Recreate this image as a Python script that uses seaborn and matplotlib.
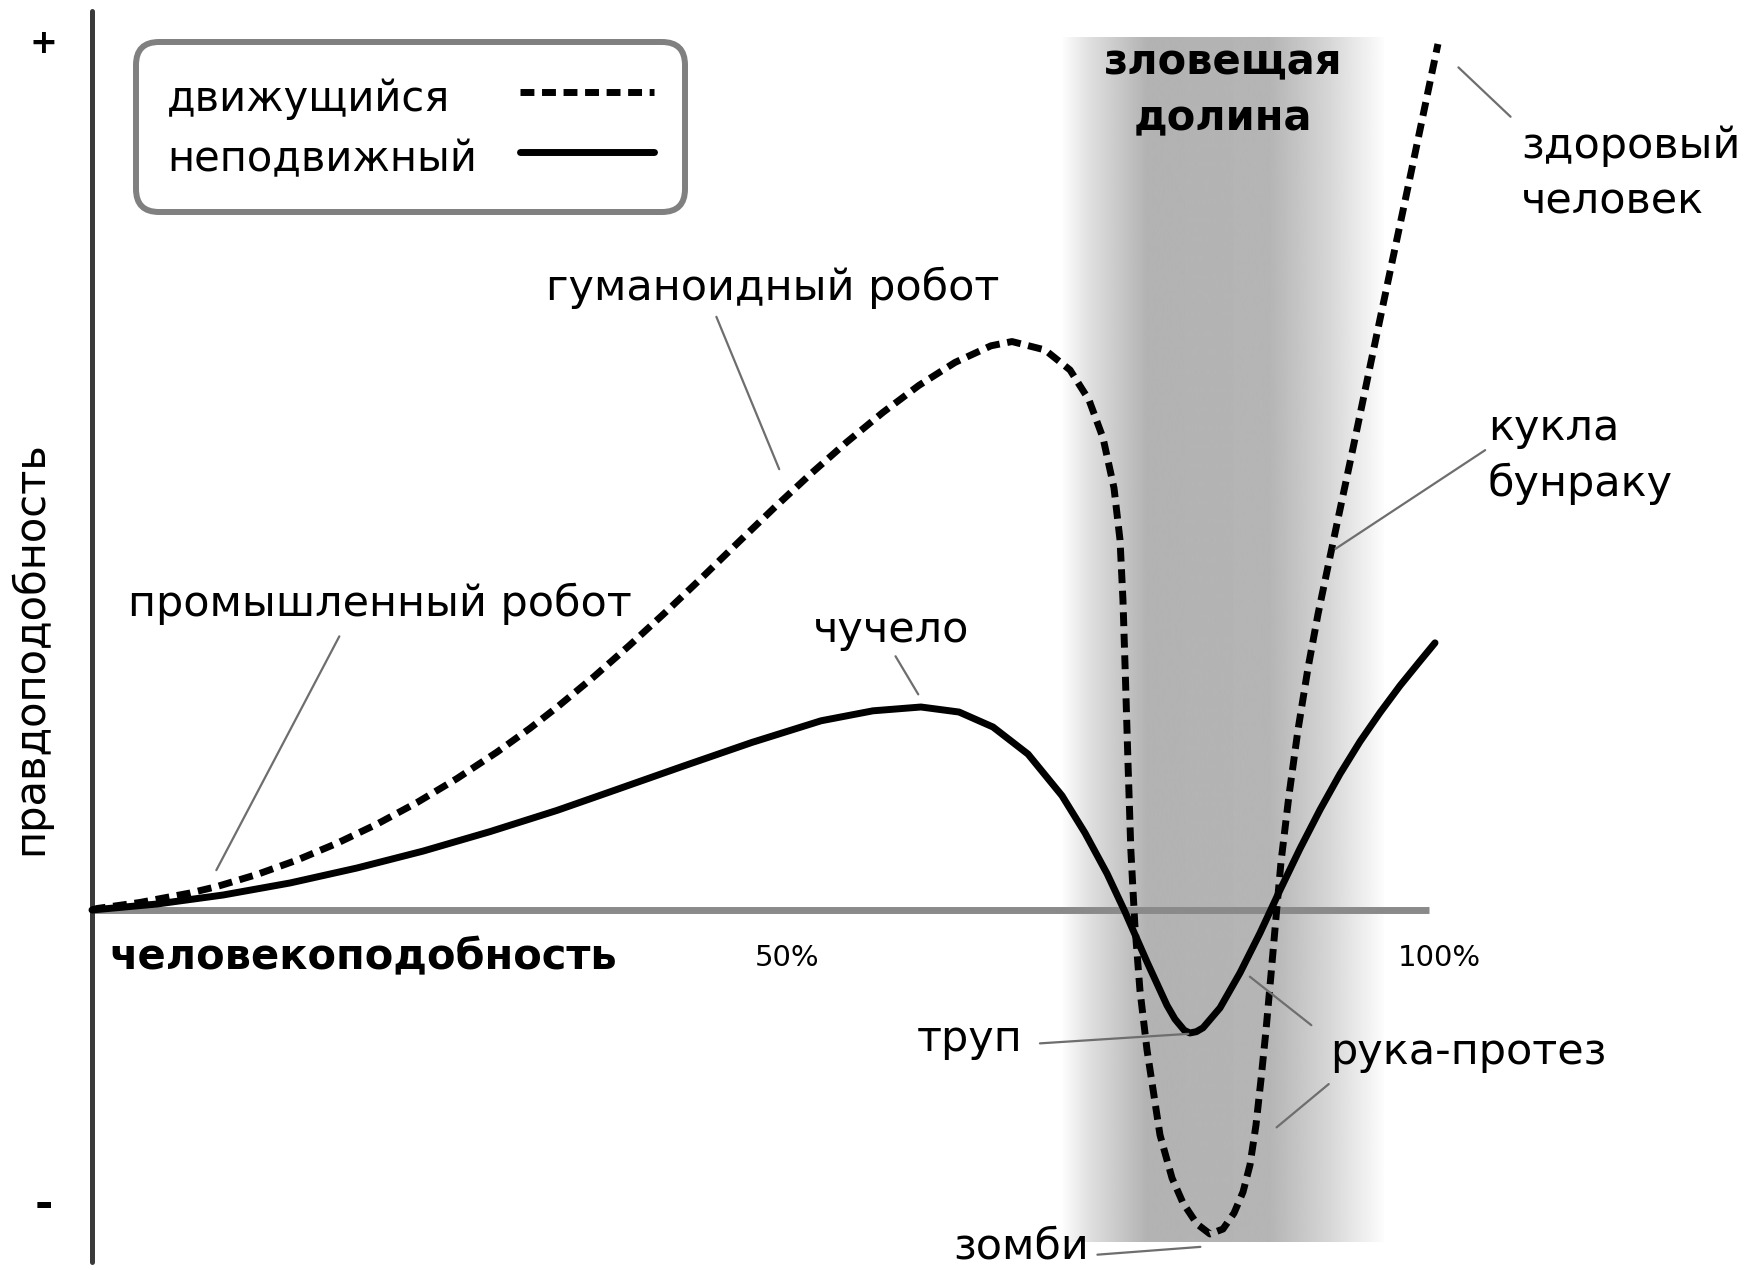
"""Uncanny valley chart: familiarity vs human likeness, moving and still curves."""
import matplotlib
matplotlib.use("Agg")
import matplotlib.pyplot as plt
import numpy as np
import pandas as pd
import seaborn as sns

# human likeness (%) and familiarity
moving_x = [0.0, 0.37, 3.59, 7.33, 9.35, 12.34, 15.33, 18.32, 21.32, 24.31, 27.30,
            30.29, 32.76, 34.85, 37.55, 40.24, 42.93, 45.62, 48.39, 51.08, 53.78,
            56.47, 59.16, 61.85, 64.55, 67.24, 68.81, 71.28, 73.15, 74.57, 75.62,
            76.44, 76.89, 77.11, 77.30, 77.48, 77.70, 78.00, 78.38, 78.91, 79.88,
            80.78, 81.60, 82.65, 83.62, 84.59, 85.42, 86.09, 86.61, 87.06, 87.43,
            87.81, 88.18, 88.56, 88.93, 89.53, 90.20, 90.95, 91.70, 92.97, 94.32,
            95.66, 97.08, 98.43, 99.70, 100.67]
moving_y = [0.0, 0.17, 0.87, 1.96, 2.71, 4.10, 5.76, 7.70, 9.92, 12.41, 15.18,
            18.23, 20.98, 23.50, 26.95, 30.61, 34.43, 38.38, 42.53, 46.52, 50.39,
            54.05, 57.46, 60.58, 63.23, 65.15, 65.64, 64.67, 62.36, 58.89, 54.50,
            48.73, 42.73, 35.80, 26.56, 17.32, 6.93, -1.73, -9.24, -16.17, -25.98,
            -30.95, -33.83, -36.26, -37.41, -36.84, -34.99, -32.56, -29.45, -24.83, -19.63,
            -13.86, -7.51, -0.81, 5.54, 13.28, 20.79, 27.94, 34.18, 43.53, 53.35,
            63.28, 73.67, 83.49, 92.84, 100.0]
still_x = [0.0, 4.86, 9.80, 14.81, 19.82, 24.76, 29.77, 34.78, 39.04, 44.20, 49.36,
           54.53, 58.41, 62.00, 64.85, 67.39, 70.01, 72.55, 74.27, 75.92, 77.26,
           78.91, 80.40, 81.00, 81.70, 82.12, 82.60, 83.10, 84.37, 85.86, 87.36,
           88.86, 90.35, 91.85, 93.34, 94.84, 96.34, 97.83, 99.33, 100.45]
still_y = [0.0, 0.69, 1.73, 3.12, 4.85, 6.80, 9.05, 11.50, 13.80, 16.60, 19.35,
           21.85, 23.00, 23.44, 22.86, 21.13, 18.00, 13.20, 8.90, 4.20, -0.20,
           -6.00, -11.00, -12.60, -13.90, -14.20, -14.05, -13.60, -11.30, -7.27, -2.66,
           2.31, 7.08, 11.58, 15.70, 19.45, 22.80, 25.90, 28.75, 30.85]

series_names = ["движущийся", "неподвижный"]
x_title = "человекоподобность"
y_title = "правдоподобность"
tick_pos = [52.0, 100.8]
tick_labels = ["50%", "100%"]
valley_label = "зловещая\nдолина"

# label text, anchor, alignment, leader segments
notes = [
    ("гуманоидный робот", (50.9, 71.8), "center", [((46.7, 68.5), (51.4, 50.9))]),
    ("промышленный робот", (21.5, 35.4), "center", [((18.5, 31.6), (9.3, 4.6))]),
    ("чучело", (59.8, 32.3), "center", [((60.1, 29.3), (61.8, 24.9))]),
    ("здоровый\nчеловек", (106.9, 85.0), "left", [((102.2, 97.3), (106.1, 91.6))]),
    ("кукла\nбунраку", (104.4, 52.4), "left", [((104.2, 53.1), (93.0, 41.7))]),
    ("труп", (69.6, -14.9), "right", [((70.9, -15.4), (82.0, -14.3))]),
    ("рука-протез", (92.6, -16.4), "left", [((91.2, -13.3), (86.6, -7.7)),
                                           ((92.5, -20.1), (88.6, -25.1))]),
    ("зомби", (69.5, -38.9), "center", [((75.2, -39.8), (82.9, -38.9))]),
]

sns.set_theme(style="white")
plt.rcParams["font.family"] = ["DejaVu Sans"]
plt.rcParams["text.color"] = "black"

fig = plt.figure(figsize=(17.44, 12.7), dpi=100)
ax = fig.add_axes([0, 0, 1, 1])

# gray band behind the valley
band_x = np.linspace(72.6, 96.6, 600)
band = np.interp(band_x, [72.6, 74.5, 78.9, 88.1, 92.5, 96.6],
                 [0.99, 0.88, 0.70, 0.71, 0.84, 0.99])
ax.imshow(band[np.newaxis, :], extent=(72.6, 96.6, -38.3, 100.8), aspect="auto",
          cmap="gray", vmin=0, vmax=1, interpolation="bilinear", zorder=0)

# axes
ax.hlines(0, 0, 100, color="#8a8a8a", lw=5, zorder=1)
ax.axvline(0, ymin=0.006, ymax=0.991, color="#3a3a3a", lw=3.6, zorder=1)

df = pd.concat([
    pd.DataFrame({"x": moving_x, "y": moving_y, "kind": series_names[0]}),
    pd.DataFrame({"x": still_x, "y": still_y, "kind": series_names[1]}),
])
sns.lineplot(data=df, x="x", y="y", style="kind", style_order=series_names,
             dashes={series_names[0]: (2, 1.1), series_names[1]: ""},
             color="black", linewidth=5, estimator=None, sort=False, ax=ax,
             zorder=3)

handles, labels = ax.get_legend_handles_labels()
leg = ax.legend(handles, labels, loc="upper left",
                bbox_to_anchor=(136 / 1744, 1 - 42 / 1270), bbox_transform=fig.transFigure,
                markerfirst=False, fontsize=30, handlelength=3.2, handletextpad=1.05,
                handleheight=1.4, borderpad=0.74, labelspacing=0.29, borderaxespad=0,
                frameon=True, fancybox=True, edgecolor="#808080", framealpha=1)
leg.get_frame().set_linewidth(4.3)
leg.get_frame().set_boxstyle("round", pad=0, rounding_size=0.55)
for line in leg.get_lines():
    line.set_linewidth(5)

# left-align legend labels while keeping the line samples in one column
fig.canvas.draw()
renderer = fig.canvas.get_renderer()
column = leg._legend_handle_box.get_children()[0]
column.align = "left"
rows = column.get_children()
text_w = [row.get_children()[0].get_bbox(renderer).width for row in rows]
for row, w in zip(rows, text_w):
    row.sep += (max(text_w) - w) * 72 / fig.dpi

for text, (tx, ty), ha, leaders in notes:
    ax.text(tx, ty, text, ha=ha, va="center", fontsize=31, linespacing=1.42, zorder=4)
    for start, end in leaders:
        ax.annotate("", xy=end, xytext=start,
                    arrowprops=dict(arrowstyle="-", color="#6e6e6e", lw=1.6,
                                    shrinkA=0, shrinkB=0))

ax.text(84.6, 94.6, valley_label, ha="center", va="center", fontsize=30,
        fontweight="bold", linespacing=1.42, zorder=4)
ax.text(1.3, -5.5, x_title, ha="left", va="center", fontsize=30, fontweight="bold")
for pos, lab in zip(tick_pos, tick_labels):
    ax.text(pos, -5.5, lab, ha="center", va="center", fontsize=21)
ax.text(-4.6, 30.2, y_title, ha="center", va="center", rotation=90, fontsize=30)
ax.text(-3.6, 100, "+", ha="center", va="center", fontsize=24, fontweight="bold")
ax.text(-3.6, -34.1, "-", ha="center", va="center", fontsize=32, fontweight="bold")

ax.set_xlim(-6.88, 123.56)
ax.set_ylim(-41.57, 105.08)
ax.set_xlabel("")
ax.set_ylabel("")
ax.axis("off")

fig.savefig("out.png", dpi=100)
